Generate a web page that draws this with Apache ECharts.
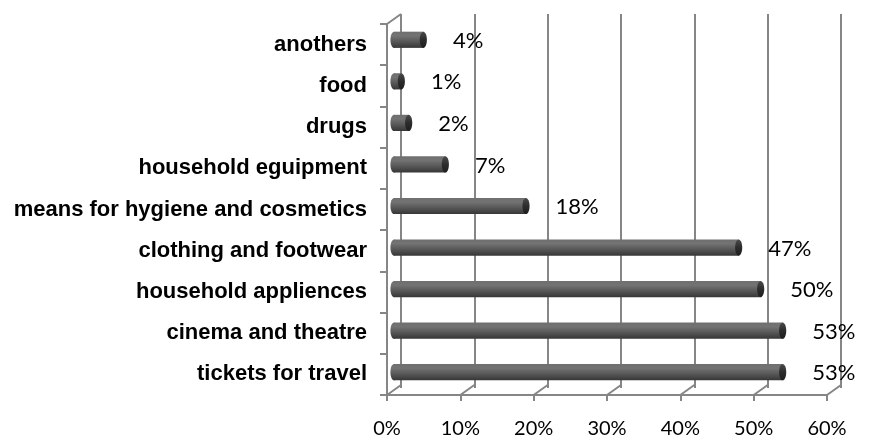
<!DOCTYPE html>
<html>
<head>
<meta charset="utf-8">
<script src="https://cdn.jsdelivr.net/npm/echarts@6/dist/echarts.min.js"></script>
<style>
  html, body { margin: 0; padding: 0; background: #ffffff; }
  #chart { width: 876px; height: 439px; }
</style>
</head>
<body>
<div id="chart"></div>
<script>
// Categories listed bottom to top (category axis starts at the bottom)
const categories = [
  'tickets for travel',
  'cinema and theatre',
  'household appliences',
  'clothing and footwear',
  'means for hygiene and cosmetics',
  'household eguipment',
  'drugs',
  'food',
  'anothers'
];
// Share of respondents, percent
const shares = [53, 53, 50, 47, 18, 7, 2, 1, 4];
// Value axis ticks, percent
const axisTicks = [0, 10, 20, 30, 40, 50, 60];

// Layout of the pseudo-3D frame: front plane and the depth shift to the back wall
const FRONT = { left: 387, right: 49, top: 24, bottom: 41 };
const DEPTH = { x: 14, y: -10 };
const FRAME = '#868686';

function shifted(f) {
  return {
    left: FRONT.left + DEPTH.x * f,
    right: FRONT.right - DEPTH.x * f,
    top: FRONT.top + DEPTH.y * f,
    bottom: FRONT.bottom - DEPTH.y * f
  };
}

const chart = echarts.init(document.getElementById('chart'), null, { renderer: 'canvas' });

const xMin = axisTicks[0], xMax = axisTicks[axisTicks.length - 1];
const xStep = axisTicks[1] - axisTicks[0];

function valueAxis(gridIndex, extra) {
  return Object.assign({
    type: 'value', gridIndex: gridIndex, min: xMin, max: xMax, interval: xStep,
    axisLine: { show: false }, axisTick: { show: false },
    axisLabel: { show: false }, splitLine: { show: false }
  }, extra);
}
function categoryAxis(gridIndex, extra) {
  return Object.assign({
    type: 'category', gridIndex: gridIndex, data: categories,
    axisLine: { show: false }, axisTick: { show: false },
    axisLabel: { show: false }, splitLine: { show: false }
  }, extra);
}

// Cylinder shading
const bodyFill = new echarts.graphic.LinearGradient(0, 0, 0, 1, [
  { offset: 0, color: '#6f6f6f' },
  { offset: 0.25, color: '#737373' },
  { offset: 0.6, color: '#585858' },
  { offset: 1, color: '#363636' }
]);
const capFill = new echarts.graphic.LinearGradient(0, 0, 0, 1, [
  { offset: 0, color: '#4a4a4a' },
  { offset: 0.5, color: '#2c2c2c' },
  { offset: 1, color: '#1e1e1e' }
]);

const option = {
  animation: false,
  backgroundColor: '#ffffff',
  grid: [
    Object.assign({}, shifted(1)),   // back wall
    Object.assign({}, shifted(0.5)), // bar plane
    Object.assign({}, shifted(0))    // front plane
  ],
  xAxis: [
    valueAxis(0, { splitLine: { show: true, lineStyle: { color: FRAME, width: 2 } } }),
    valueAxis(1),
    valueAxis(2, {
      axisLine: { show: true, onZero: false, lineStyle: { color: FRAME, width: 2 } },
      axisTick: { show: true, length: 6, lineStyle: { color: FRAME, width: 2 } },
      axisLabel: {
        show: true, margin: 24, color: '#000000', fontSize: 20,
        fontFamily: 'Lato', formatter: function (v) { return v + '%'; }
      }
    })
  ],
  yAxis: [
    categoryAxis(0),
    categoryAxis(1),
    categoryAxis(2, {
      axisLine: { show: true, onZero: false, lineStyle: { color: FRAME, width: 2 } },
      axisTick: { show: true, length: 7, lineStyle: { color: FRAME, width: 2 } },
      axisLabel: {
        show: true, margin: 20, color: '#000000', fontSize: 22,
        fontWeight: 'bold', fontFamily: 'Liberation Sans',
        padding: [5, 0, 0, 0]
      }
    })
  ],
  series: [
    {
      // floor and side-wall edges running from the front plane to the back wall
      type: 'custom',
      xAxisIndex: 2, yAxisIndex: 2,
      silent: true,
      data: axisTicks.map(function (t) { return [t, 0]; }),
      encode: { x: 0, y: 1 },
      renderItem: function (params, api) {
        const cs = params.coordSys;
        const x = api.coord([api.value(0), 0])[0];
        const yb = cs.y + cs.height;
        const children = [{
          type: 'line',
          shape: { x1: x, y1: yb, x2: x + DEPTH.x, y2: yb + DEPTH.y },
          style: { stroke: FRAME, lineWidth: 2 }
        }];
        if (params.dataIndex === 0) {
          children.push({
            type: 'line',
            shape: { x1: x, y1: cs.y, x2: x + DEPTH.x, y2: cs.y + DEPTH.y },
            style: { stroke: FRAME, lineWidth: 2 }
          });
        }
        return { type: 'group', children: children };
      }
    },
    {
      // cylinders with their value labels
      type: 'custom',
      xAxisIndex: 1, yAxisIndex: 1,
      data: shares.map(function (v, i) { return [v, i]; }),
      encode: { x: 0, y: 1 },
      renderItem: function (params, api) {
        const v = api.value(0), i = api.value(1);
        const p0 = api.coord([0, i]);
        const p1 = api.coord([v, i]);
        const h = api.size([0, 1])[1] * 0.39;
        const rx = h * 0.22;
        const cy = p0[1];
        return {
          type: 'group',
          children: [
            { type: 'ellipse', shape: { cx: p0[0], cy: cy, rx: rx, ry: h / 2 }, style: { fill: bodyFill } },
            { type: 'rect', shape: { x: p0[0], y: cy - h / 2, width: p1[0] - p0[0], height: h }, style: { fill: bodyFill } },
            { type: 'ellipse', shape: { cx: p1[0], cy: cy, rx: rx, ry: h / 2 }, style: { fill: capFill } },
            {
              type: 'text',
              style: {
                x: p1[0] + rx + 26, y: cy + 1,
                text: v + '%', fill: '#000000',
                font: '22px Lato', textVerticalAlign: 'middle', textAlign: 'left'
              }
            }
          ]
        };
      }
    }
  ]
};

chart.setOption(option);
</script>
</body>
</html>
